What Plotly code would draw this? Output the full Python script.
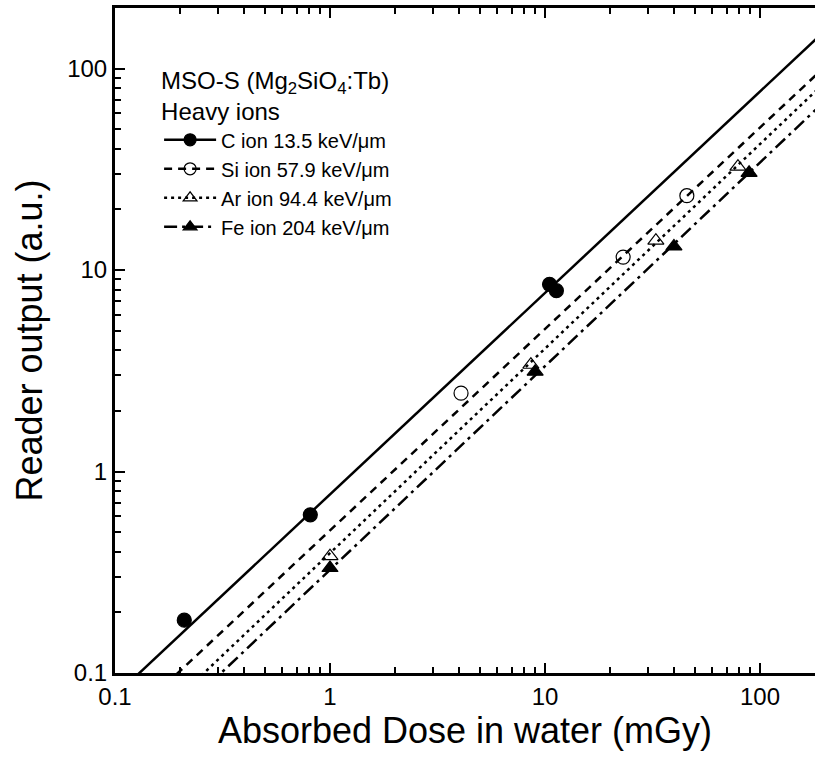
import plotly.graph_objects as go

# ---- data ----
c_dose = [0.21, 0.81, 10.5, 11.3]
c_out = [0.183, 0.61, 8.5, 7.9]
si_dose = [4.07, 23.1, 45.7]
si_out = [2.45, 11.6, 23.4]
ar_dose = [1.0, 8.6, 32.8, 79.0]
ar_out = [0.38, 3.39, 14.0, 32.6]
fe_dose = [1.0, 9.0, 39.8, 89.0]
fe_out = [0.332, 3.13, 13.1, 30.4]

# fitted lines: end points at dose 0.1 and 200 mGy
fit_dose = [0.1, 200]
c_fit = [0.077, 154]
si_fit = [0.051, 102]
ar_fit = [0.038, 85.3]
fe_fit = [0.0317, 68.9]

series_names = ["C ion 13.5 keV/\u03bcm", "Si ion 57.9 keV/\u03bcm",
                "Ar ion 94.4 keV/\u03bcm", "Fe ion 204 keV/\u03bcm"]
legend_title = "MSO-S (Mg<sub>2</sub>SiO<sub>4</sub>:Tb)<br>Heavy ions"
x_title = "Absorbed Dose in water (mGy)"
y_title = "Reader output (a.u.)"
tick_vals = [0.1, 1, 10, 100]
tick_text = ["0.1", "1", "10", "100"]

FONT = "Liberation Sans, Arial, sans-serif"
BLACK = "#000000"

styles = [
    dict(dash="solid", symbol="circle", mcolor=BLACK),
    dict(dash="8px,6px", symbol="circle-open", mcolor=BLACK),
    dict(dash="3px,4px", symbol="triangle-up-open", mcolor=BLACK),
    dict(dash="13px,5px,3px,5px", symbol="triangle-up", mcolor=BLACK),
]
pts = [(c_dose, c_out), (si_dose, si_out), (ar_dose, ar_out), (fe_dose, fe_out)]
fits = [c_fit, si_fit, ar_fit, fe_fit]

fig = go.Figure()
for i in range(4):
    st = styles[i]
    fig.add_trace(go.Scatter(
        x=fit_dose, y=fits[i], mode="lines",
        line=dict(color=BLACK, width=2.5, dash=st["dash"]),
        showlegend=False, hoverinfo="skip", legendgroup=str(i)))
    fig.add_trace(go.Scatter(
        x=pts[i][0], y=pts[i][1], mode="markers",
        name=series_names[i], legendgroup=str(i),
        marker=dict(symbol=st["symbol"], size=14, color=st["mcolor"],
                    line=dict(color=BLACK, width=1.2)),
        showlegend=False))
    fig.add_trace(go.Scatter(
        x=[None], y=[None], mode="lines+markers", name=series_names[i],
        line=dict(color=BLACK, width=2.5, dash=st["dash"]),
        marker=dict(symbol=st["symbol"], size=12, color=st["mcolor"],
                    line=dict(color=BLACK, width=1.2)),
        legendgroup=str(i)))

minor_vals = []
for dec in [0.1, 1, 10, 100]:
    for m in range(2, 10):
        minor_vals.append(dec * m)

axis_common = dict(
    type="log", showgrid=False, zeroline=False,
    showline=True, linecolor=BLACK, linewidth=3,
    ticks="inside", ticklen=10, tickwidth=2, tickcolor=BLACK,
    tickmode="array", tickvals=tick_vals, ticktext=tick_text,
    tickfont=dict(family=FONT, size=24, color=BLACK),
    minor=dict(ticks="inside", ticklen=6, tickwidth=2, tickcolor=BLACK,
               tickmode="array", tickvals=minor_vals, showgrid=False),
)

fig.update_layout(
    width=815, height=765,
    margin=dict(l=115, r=0, t=8, b=92),
    paper_bgcolor="white", plot_bgcolor="white",
    font=dict(family=FONT, color=BLACK),
    xaxis=dict(axis_common, range=[-1, 2.256], mirror="ticks",
               title=dict(text=x_title, font=dict(family=FONT, size=36), standoff=4)),
    yaxis=dict(axis_common, range=[-1, 2.301], mirror=False,
               title=dict(text=y_title, font=dict(family=FONT, size=36), standoff=14)),
    legend=dict(x=0.063, y=0.925, xanchor="left", yanchor="top",
                bgcolor="rgba(0,0,0,0)", borderwidth=0,
                font=dict(family=FONT, size=20, color=BLACK),
                title=dict(text=legend_title, font=dict(family=FONT, size=24, color=BLACK)),
                itemwidth=52, tracegroupgap=0),
    showlegend=True,
)

fig.write_html("out.html")
